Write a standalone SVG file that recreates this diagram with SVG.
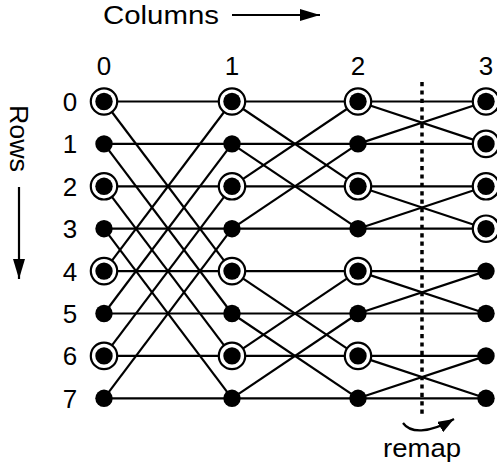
<svg xmlns="http://www.w3.org/2000/svg" width="497" height="467" viewBox="0 0 497 467">
<style>
  .lbl { font-family: "Liberation Sans", Arial, sans-serif; font-size: 26px; fill: #000; }
  .num { text-anchor: middle; }
  .ln { stroke: #000; stroke-width: 2.2; fill: none; }
  .dot { fill: #000; }
  .ring { fill: #fff; stroke: #000; stroke-width: 2.2; }
</style>
<defs>
  <marker id="ah" viewBox="0 0 20 12" refX="20" refY="6" markerWidth="20" markerHeight="12" markerUnits="userSpaceOnUse" orient="auto">
    <path d="M0,0 L20,6 L0,12 Z" fill="#000"/>
  </marker>
  <marker id="ah2" viewBox="0 0 16 12" refX="16" refY="6" markerWidth="16" markerHeight="12" markerUnits="userSpaceOnUse" orient="auto">
    <path d="M0,0 L16,6 L0,12 Z" fill="#000"/>
  </marker>
</defs>
<rect width="497" height="467" fill="#fff"/>

<g id="axis-labels">
  <text class="lbl" x="103" y="24" font-size="26" textLength="116" lengthAdjust="spacingAndGlyphs">Columns</text>
  <line class="ln" x1="232" y1="15" x2="320" y2="15" marker-end="url(#ah)"/>
  <text class="lbl" transform="translate(10,105) rotate(90)" font-size="25" textLength="67" lengthAdjust="spacingAndGlyphs">Rows</text>
  <line class="ln" x1="19" y1="187" x2="19" y2="279" marker-end="url(#ah)"/>
</g>

<g id="column-labels">
  <text class="lbl num" x="104" y="75">0</text>
  <text class="lbl num" x="232" y="75">1</text>
  <text class="lbl num" x="358" y="75">2</text>
  <text class="lbl num" x="486" y="75">3</text>
</g>

<g id="row-labels">
  <text class="lbl num" x="70" y="111">0</text>
  <text class="lbl num" x="70" y="153.4">1</text>
  <text class="lbl num" x="70" y="195.8">2</text>
  <text class="lbl num" x="70" y="238.2">3</text>
  <text class="lbl num" x="70" y="280.6">4</text>
  <text class="lbl num" x="70" y="323">5</text>
  <text class="lbl num" x="70" y="365.4">6</text>
  <text class="lbl num" x="70" y="407.8">7</text>
</g>

<g id="connectors">
  <!-- horizontals -->
  <line class="ln" x1="104" y1="101.5" x2="486" y2="101.5"/>
  <line class="ln" x1="104" y1="143.9" x2="486" y2="143.9"/>
  <line class="ln" x1="104" y1="186.3" x2="486" y2="186.3"/>
  <line class="ln" x1="104" y1="228.7" x2="486" y2="228.7"/>
  <line class="ln" x1="104" y1="271.1" x2="486" y2="271.1"/>
  <line class="ln" x1="104" y1="313.5" x2="486" y2="313.5"/>
  <line class="ln" x1="104" y1="355.9" x2="486" y2="355.9"/>
  <line class="ln" x1="104" y1="398.3" x2="486" y2="398.3"/>
  <!-- stage 0: distance 4 -->
  <line class="ln" x1="104" y1="101.5" x2="232" y2="271.1"/>
  <line class="ln" x1="104" y1="143.9" x2="232" y2="313.5"/>
  <line class="ln" x1="104" y1="186.3" x2="232" y2="355.9"/>
  <line class="ln" x1="104" y1="228.7" x2="232" y2="398.3"/>
  <line class="ln" x1="104" y1="271.1" x2="232" y2="101.5"/>
  <line class="ln" x1="104" y1="313.5" x2="232" y2="143.9"/>
  <line class="ln" x1="104" y1="355.9" x2="232" y2="186.3"/>
  <line class="ln" x1="104" y1="398.3" x2="232" y2="228.7"/>
  <!-- stage 1: distance 2 -->
  <line class="ln" x1="232" y1="101.5" x2="358" y2="186.3"/>
  <line class="ln" x1="232" y1="143.9" x2="358" y2="228.7"/>
  <line class="ln" x1="232" y1="186.3" x2="358" y2="101.5"/>
  <line class="ln" x1="232" y1="228.7" x2="358" y2="143.9"/>
  <line class="ln" x1="232" y1="271.1" x2="358" y2="355.9"/>
  <line class="ln" x1="232" y1="313.5" x2="358" y2="398.3"/>
  <line class="ln" x1="232" y1="355.9" x2="358" y2="271.1"/>
  <line class="ln" x1="232" y1="398.3" x2="358" y2="313.5"/>
  <!-- stage 2: distance 1 -->
  <line class="ln" x1="358" y1="101.5" x2="486" y2="143.9"/>
  <line class="ln" x1="358" y1="143.9" x2="486" y2="101.5"/>
  <line class="ln" x1="358" y1="186.3" x2="486" y2="228.7"/>
  <line class="ln" x1="358" y1="228.7" x2="486" y2="186.3"/>
  <line class="ln" x1="358" y1="271.1" x2="486" y2="313.5"/>
  <line class="ln" x1="358" y1="313.5" x2="486" y2="271.1"/>
  <line class="ln" x1="358" y1="355.9" x2="486" y2="398.3"/>
  <line class="ln" x1="358" y1="398.3" x2="486" y2="355.9"/>
</g>

<g id="remap">
  <line x1="422" y1="82" x2="422" y2="418" stroke="#000" stroke-width="3.5" stroke-dasharray="4.2 4.2"/>
  <path class="ln" d="M403,423 C410,433 428,434 454,419" marker-end="url(#ah2)"/>
  <text class="lbl" x="383" y="457" font-size="26" textLength="78" lengthAdjust="spacingAndGlyphs">remap</text>
</g>

<g id="nodes-col0">
  <circle class="ring" cx="104" cy="101.5" r="13.2"/><circle class="dot" cx="104" cy="101.5" r="8.7"/>
  <circle class="dot" cx="104" cy="143.9" r="8.7"/>
  <circle class="ring" cx="104" cy="186.3" r="13.2"/><circle class="dot" cx="104" cy="186.3" r="8.7"/>
  <circle class="dot" cx="104" cy="228.7" r="8.7"/>
  <circle class="ring" cx="104" cy="271.1" r="13.2"/><circle class="dot" cx="104" cy="271.1" r="8.7"/>
  <circle class="dot" cx="104" cy="313.5" r="8.7"/>
  <circle class="ring" cx="104" cy="355.9" r="13.2"/><circle class="dot" cx="104" cy="355.9" r="8.7"/>
  <circle class="dot" cx="104" cy="398.3" r="8.7"/>
</g>
<g id="nodes-col1">
  <circle class="ring" cx="232" cy="101.5" r="13.2"/><circle class="dot" cx="232" cy="101.5" r="8.7"/>
  <circle class="dot" cx="232" cy="143.9" r="8.7"/>
  <circle class="ring" cx="232" cy="186.3" r="13.2"/><circle class="dot" cx="232" cy="186.3" r="8.7"/>
  <circle class="dot" cx="232" cy="228.7" r="8.7"/>
  <circle class="ring" cx="232" cy="271.1" r="13.2"/><circle class="dot" cx="232" cy="271.1" r="8.7"/>
  <circle class="dot" cx="232" cy="313.5" r="8.7"/>
  <circle class="ring" cx="232" cy="355.9" r="13.2"/><circle class="dot" cx="232" cy="355.9" r="8.7"/>
  <circle class="dot" cx="232" cy="398.3" r="8.7"/>
</g>
<g id="nodes-col2">
  <circle class="ring" cx="358" cy="101.5" r="13.2"/><circle class="dot" cx="358" cy="101.5" r="8.7"/>
  <circle class="dot" cx="358" cy="143.9" r="8.7"/>
  <circle class="ring" cx="358" cy="186.3" r="13.2"/><circle class="dot" cx="358" cy="186.3" r="8.7"/>
  <circle class="dot" cx="358" cy="228.7" r="8.7"/>
  <circle class="ring" cx="358" cy="271.1" r="13.2"/><circle class="dot" cx="358" cy="271.1" r="8.7"/>
  <circle class="dot" cx="358" cy="313.5" r="8.7"/>
  <circle class="ring" cx="358" cy="355.9" r="13.2"/><circle class="dot" cx="358" cy="355.9" r="8.7"/>
  <circle class="dot" cx="358" cy="398.3" r="8.7"/>
</g>
<g id="nodes-col3">
  <circle class="ring" cx="486" cy="101.5" r="13.2"/><circle class="dot" cx="486" cy="101.5" r="8.7"/>
  <circle class="ring" cx="486" cy="143.9" r="13.2"/><circle class="dot" cx="486" cy="143.9" r="8.7"/>
  <circle class="ring" cx="486" cy="186.3" r="13.2"/><circle class="dot" cx="486" cy="186.3" r="8.7"/>
  <circle class="ring" cx="486" cy="228.7" r="13.2"/><circle class="dot" cx="486" cy="228.7" r="8.7"/>
  <circle class="dot" cx="486" cy="271.1" r="8.7"/>
  <circle class="dot" cx="486" cy="313.5" r="8.7"/>
  <circle class="dot" cx="486" cy="355.9" r="8.7"/>
  <circle class="dot" cx="486" cy="398.3" r="8.7"/>
</g>
</svg>
